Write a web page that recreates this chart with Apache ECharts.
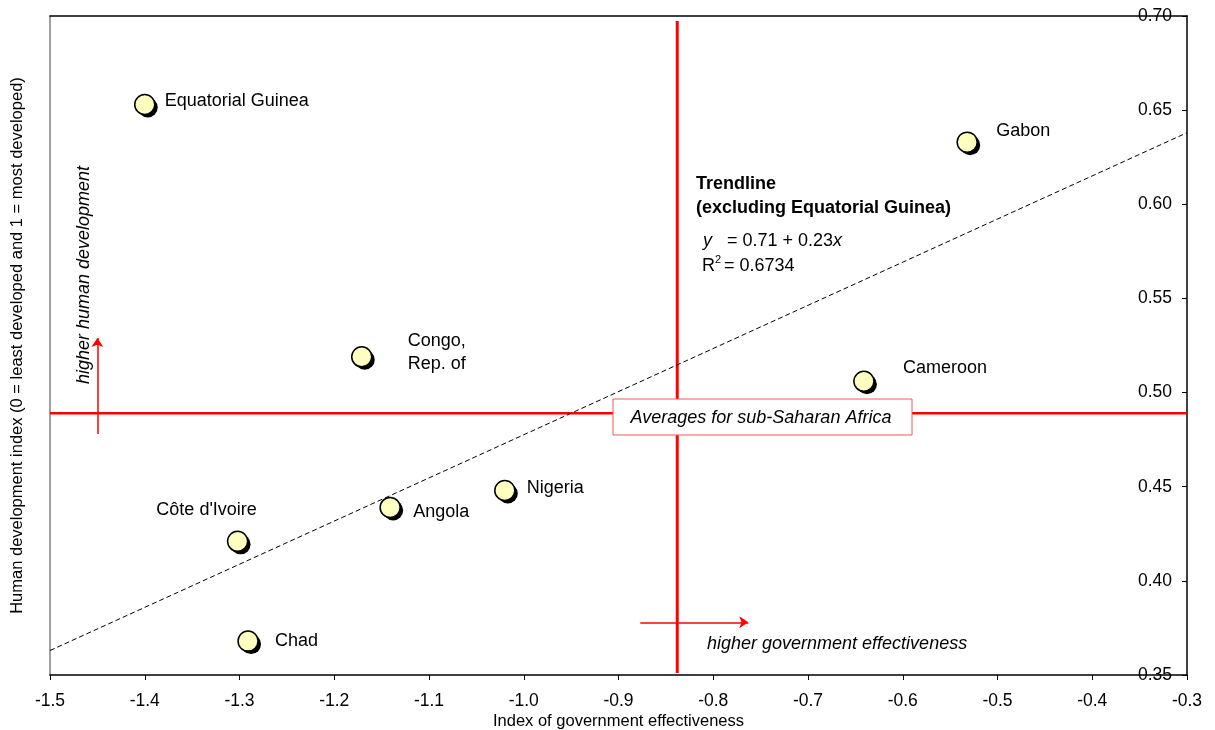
<!DOCTYPE html>
<html>
<head>
<meta charset="utf-8">
<script src="https://cdn.jsdelivr.net/npm/echarts@6/dist/echarts.min.js"></script>
<style>html,body{margin:0;padding:0;background:#fff;}#c{width:1215px;height:730px;}</style>
</head>
<body>
<div id="c"></div>
<script>
// ---- data ----
var countries = ['Equatorial Guinea', 'Gabon', 'Congo,\nRep. of', 'Cameroon', 'Nigeria', 'Angola', "Côte d'Ivoire", 'Chad'];
var govEffectiveness = [-1.40, -0.532, -1.171, -0.641, -1.020, -1.141, -1.302, -1.291];
var humanDevelopment = [0.653, 0.633, 0.519, 0.506, 0.448, 0.439, 0.421, 0.368];
var avgGovEffectiveness = -0.838;
var avgHumanDevelopment = 0.489;
var trendX = [-1.5, -0.3];
var trendY = [0.363, 0.638];
var xTicks = { min: -1.5, max: -0.3, interval: 0.1 };
var yTicks = { min: 0.35, max: 0.70, interval: 0.05 };
var arrowHDX = -1.45, arrowHDY = [0.478, 0.529];
var arrowGEY = 0.378, arrowGEX = [-0.877, -0.763];

// ---- label placement (style, not data) ----
var labelStyle = {
  'Equatorial Guinea': { align: 'left', offset: [20, -3] },
  'Gabon': { align: 'left', offset: [29, -11] },
  'Congo,\nRep. of': { align: 'left', offset: [46, -4] },
  'Cameroon': { align: 'left', offset: [39, -13] },
  'Nigeria': { align: 'left', offset: [22, -2] },
  'Angola': { align: 'left', offset: [23, 5] },
  "Côte d'Ivoire": { align: 'center', offset: [-31, -31] },
  'Chad': { align: 'left', offset: [27, 0] }
};

var FONT = 'Liberation Sans, Arial, sans-serif';
var pts = countries.map(function (n, i) {
  var ls = labelStyle[n];
  return {
    name: n,
    value: [govEffectiveness[i], humanDevelopment[i]],
    label: { show: true, position: 'inside', align: ls.align, verticalAlign: 'middle', offset: ls.offset,
      formatter: '{b}', color: '#000', fontSize: 18, fontFamily: FONT, lineHeight: 23,
      textBorderWidth: 0, textShadowBlur: 0 }
  };
});
var shadowPts = countries.map(function (n, i) { return [govEffectiveness[i], humanDevelopment[i]]; });

var chart = echarts.init(document.getElementById('c'), null, { renderer: 'canvas' });
var option = {
  animation: false,
  backgroundColor: '#fff',
  grid: { left: 50, right: 28, top: 16, bottom: 55, containLabel: false, outerBoundsMode: 'none' },
  xAxis: [{
    type: 'value', position: 'bottom', min: xTicks.min, max: xTicks.max, interval: xTicks.interval,
    name: 'Index of government effectiveness', nameLocation: 'middle', nameGap: 38, nameMoveOverlap: false,
    nameTextStyle: { fontSize: 16.5, fontFamily: FONT, color: '#000' },
    axisLine: { show: true, onZero: false, lineStyle: { color: '#000', width: 1.5 } },
    axisTick: { show: true, inside: false, length: 5, lineStyle: { color: '#000' } },
    axisLabel: { fontSize: 17.5, fontFamily: FONT, color: '#000', margin: 17,
      formatter: function (v) { return v.toFixed(1); } },
    splitLine: { show: false }
  }, {
    type: 'value', position: 'top', min: xTicks.min, max: xTicks.max,
    axisLine: { show: true, onZero: false, lineStyle: { color: '#000', width: 1.5 } },
    axisTick: { show: false }, axisLabel: { show: false }, splitLine: { show: false }
  }],
  yAxis: [{
    type: 'value', position: 'left', min: yTicks.min, max: yTicks.max, interval: yTicks.interval,
    name: 'Human development index (0 = least developed and 1 = most developed)',
    nameLocation: 'middle', nameGap: 24, nameRotate: 90, nameMoveOverlap: false,
    nameTextStyle: { fontSize: 16.5, fontFamily: FONT, color: '#000' },
    axisLine: { show: true, onZero: false, lineStyle: { color: '#808080', width: 1.5 } },
    axisTick: { show: false }, axisLabel: { show: false }, splitLine: { show: false }
  }, {
    type: 'value', position: 'right', min: yTicks.min, max: yTicks.max, interval: yTicks.interval,
    axisLine: { show: true, onZero: false, lineStyle: { color: '#000', width: 1.5 } },
    axisTick: { show: true, inside: true, length: 5, lineStyle: { color: '#000' } },
    axisLabel: { inside: true, margin: 15, fontSize: 17.5, fontFamily: FONT, color: '#000',
      formatter: function (v) { return v.toFixed(2); } },
    splitLine: { show: false }
  }],
  series: [
    {
      type: 'line', xAxisIndex: 0, yAxisIndex: 1, symbol: 'none', silent: true, z: 2,
      data: [[avgGovEffectiveness, 0.6973], [avgGovEffectiveness, 0.3511]],
      lineStyle: { color: '#ff0000', width: 3 }
    },
    {
      type: 'line', xAxisIndex: 0, yAxisIndex: 1, symbol: 'none', silent: true, z: 2,
      data: [[xTicks.min, avgHumanDevelopment], [xTicks.max, avgHumanDevelopment]],
      lineStyle: { color: '#ff0000', width: 2.5 }
    },
    {
      type: 'line', xAxisIndex: 0, yAxisIndex: 1, symbol: 'none', silent: true, z: 3,
      data: [[trendX[0], trendY[0]], [trendX[1], trendY[1]]],
      lineStyle: { color: '#000', width: 1, type: [5, 3] }
    },
    {
      type: 'lines', coordinateSystem: 'cartesian2d', xAxisIndex: 0, yAxisIndex: 1, silent: true, z: 3,
      symbol: ['none', 'arrow'], symbolSize: 9,
      lineStyle: { color: '#ff0000', width: 1.5, opacity: 1 },
      data: [
        { coords: [[arrowHDX, arrowHDY[0]], [arrowHDX, arrowHDY[1]]] },
        { coords: [[arrowGEX[0], arrowGEY], [arrowGEX[1], arrowGEY]] }
      ]
    },
    {
      type: 'scatter', xAxisIndex: 0, yAxisIndex: 1, z: 4, silent: true,
      symbol: 'circle', symbolSize: 20, symbolOffset: [3, 3],
      itemStyle: { color: '#000', opacity: 1 },
      emphasis: { disabled: true },
      data: shadowPts
    },
    {
      type: 'scatter', xAxisIndex: 0, yAxisIndex: 1, z: 5,
      symbol: 'circle', symbolSize: 20,
      itemStyle: { color: '#ffffc0', opacity: 1, borderColor: '#000', borderWidth: 1.5 },
      emphasis: { disabled: true },
      data: pts
    }
  ],
  graphic: [
    { type: 'text', left: 696, top: 172, z: 10,
      style: { text: 'Trendline\n(excluding Equatorial Guinea)', font: 'bold 18px ' + FONT, fill: '#000', lineHeight: 24 } },
    { type: 'text', left: 703, top: 232, z: 10,
      style: { text: '{i|y}   = 0.71 + 0.23{i|x}', font: '18px ' + FONT, fill: '#000',
        rich: { i: { font: 'italic 18px ' + FONT, fill: '#000' } } } },
    { type: 'text', left: 702, top: 257, z: 10,
      style: { text: 'R', font: '18px ' + FONT, fill: '#000' } },
    { type: 'text', left: 715, top: 254, z: 10,
      style: { text: '2', font: '11px ' + FONT, fill: '#000' } },
    { type: 'text', left: 724, top: 257, z: 10,
      style: { text: '= 0.6734', font: '18px ' + FONT, fill: '#000' } },
    { type: 'rect', z: 10, shape: { x: 613, y: 399, width: 299, height: 36 },
      style: { fill: '#fff', stroke: '#f05a5a', lineWidth: 1 } },
    { type: 'text', z: 11, x: 761, y: 418,
      style: { text: 'Averages for sub-Saharan Africa', font: 'italic 18px ' + FONT, fill: '#000',
        align: 'center', verticalAlign: 'middle' } },
    { type: 'text', z: 10, x: 84, y: 275, rotation: Math.PI / 2,
      style: { text: 'higher human development', font: 'italic 18px ' + FONT, fill: '#000',
        align: 'center', verticalAlign: 'middle' } },
    { type: 'text', z: 10, x: 707, y: 644,
      style: { text: 'higher government effectiveness', font: 'italic 18px ' + FONT, fill: '#000',
        align: 'left', verticalAlign: 'middle' } }
  ]
};
chart.setOption(option);
</script>
</body>
</html>
